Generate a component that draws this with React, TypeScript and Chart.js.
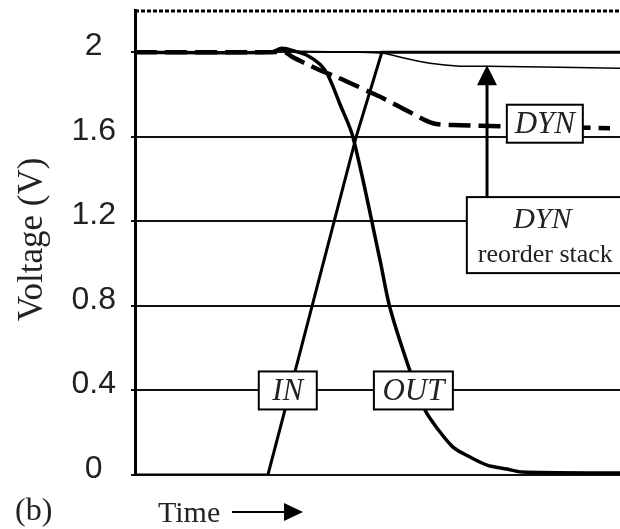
import React, { useEffect, useRef } from 'react';
import { Chart, registerables } from 'chart.js';
Chart.register(...registerables);

// ---- data (time in arbitrary units 0..100, voltage in V) ----
const yTicks = [0, 0.4, 0.8, 1.2, 1.6, 2];

const inTime = [0, 27.4, 33.0, 45.6, 50.9, 100];
const inVolt = [0, 0, 0.49, 1.6, 2.0, 2.0];

const outTime = [0, 27.84, 30.31, 32.99, 35.46, 38.14, 39.79, 42.27, 44.95, 50.52, 52.58, 56.7, 59.79, 62.27, 65.57, 69.07, 72.58, 76.7, 79.79, 100];
const outVolt = [2.0, 2.0, 2.019, 2.005, 1.986, 1.943, 1.891, 1.754, 1.598, 1.017, 0.79, 0.492, 0.307, 0.222, 0.132, 0.085, 0.047, 0.028, 0.014, 0.009];

const dynTime = [0, 27.84, 30.9, 32.58, 35.05, 38.14, 41.65, 45.36, 48.45, 51.13, 56.7, 61.44, 67.01, 75.26, 97.94];
const dynVolt = [2.0, 2.0, 2.0, 1.976, 1.948, 1.915, 1.882, 1.844, 1.811, 1.783, 1.716, 1.664, 1.655, 1.65, 1.641];

const reoTime = [0, 27.84, 30.31, 34.0, 45.77, 51.13, 55.67, 60.82, 67.01, 72.58, 87.63, 100];
const reoVolt = [2.0, 2.0, 2.01, 2.005, 2.0, 1.995, 1.972, 1.948, 1.934, 1.934, 1.929, 1.924];

// ---- annotations (data coordinates) ----
const boxLabels = [
  { lines: ['IN'], t: 31.5, v: 0.4 },
  { lines: ['OUT'], t: 57.4, v: 0.4 },
  { lines: ['DYN'], t: 84.5, v: 1.662 },
  { lines: ['DYN', 'reorder stack'], t: 84.4, v: 1.135 },
];
const arrowT = 72.58;
const arrowFromV = 1.314;
const arrowToV = 1.939;

const toXY = (ts: number[], vs: number[]) => ts.map((t, i) => ({ x: t, y: vs[i] }));

const SERIF = '"Liberation Serif", "Times New Roman", serif';
const SANS = '"Liberation Sans", Arial, sans-serif';

const annotPlugin = {
  id: 'annot',
  afterDatasetsDraw(chart: any) {
    const { ctx, chartArea: ca, scales } = chart;
    const xs = scales.x;
    const ys = scales.y;
    ctx.save();
    // top dotted border
    ctx.strokeStyle = '#000';
    ctx.lineWidth = 3;
    ctx.setLineDash([4, 2]);
    ctx.beginPath();
    ctx.moveTo(ca.left, ca.top + 1);
    ctx.lineTo(ca.right, ca.top + 1);
    ctx.stroke();
    ctx.setLineDash([]);

    // arrow
    const ax = xs.getPixelForValue(arrowT);
    const ay0 = ys.getPixelForValue(arrowFromV);
    const ay1 = ys.getPixelForValue(arrowToV);
    ctx.lineWidth = 3;
    ctx.beginPath();
    ctx.moveTo(ax, ay0);
    ctx.lineTo(ax, ay1 + 16);
    ctx.stroke();
    ctx.fillStyle = '#000';
    ctx.beginPath();
    ctx.moveTo(ax, ay1);
    ctx.lineTo(ax - 10, ay1 + 20);
    ctx.lineTo(ax + 10, ay1 + 20);
    ctx.closePath();
    ctx.fill();

    // boxes
    boxLabels.forEach((b) => {
      const cx = xs.getPixelForValue(b.t);
      const cy = ys.getPixelForValue(b.v);
      const two = b.lines.length > 1;
      const w = two ? 155 : b.lines[0] === 'OUT' ? 79 : b.lines[0] === 'IN' ? 58 : 76;
      const h = two ? 76 : 38;
      ctx.fillStyle = '#fff';
      ctx.fillRect(cx - w / 2, cy - h / 2, w, h);
      ctx.strokeStyle = '#000';
      ctx.lineWidth = 2;
      ctx.strokeRect(cx - w / 2, cy - h / 2, w, h);
      ctx.fillStyle = '#222';
      ctx.textAlign = 'center';
      ctx.textBaseline = 'middle';
      if (two) {
        ctx.font = `italic 30px ${SERIF}`;
        ctx.fillText(b.lines[0], cx - 2, cy - 15);
        ctx.font = `26px ${SERIF}`;
        ctx.fillText(b.lines[1], cx + 1, cy + 20);
      } else {
        ctx.font = `italic 31px ${SERIF}`;
        ctx.fillText(b.lines[0], cx, cy + 1);
      }
    });
    ctx.restore();
  },
  afterDraw(chart: any) {
    const { ctx, chartArea: ca } = chart;
    ctx.save();
    ctx.fillStyle = '#222';
    // y axis title
    ctx.font = `35px ${SERIF}`;
    ctx.textAlign = 'center';
    ctx.textBaseline = 'middle';
    ctx.translate(33, (ca.top + ca.bottom) / 2 - 3);
    ctx.rotate(-Math.PI / 2);
    ctx.fillText('Voltage (V)', 0, 0);
    ctx.restore();

    ctx.save();
    ctx.fillStyle = '#222';
    ctx.textBaseline = 'alphabetic';
    ctx.textAlign = 'left';
    ctx.font = `32px ${SERIF}`;
    ctx.fillText('(b)', 15, 520);
    ctx.font = `30px ${SERIF}`;
    ctx.fillText('Time', 158, 522);
    // arrow after Time
    ctx.strokeStyle = '#000';
    ctx.lineWidth = 2;
    ctx.beginPath();
    ctx.moveTo(232, 512);
    ctx.lineTo(286, 512);
    ctx.stroke();
    ctx.fillStyle = '#000';
    ctx.beginPath();
    ctx.moveTo(303, 512);
    ctx.lineTo(284, 503);
    ctx.lineTo(284, 521);
    ctx.closePath();
    ctx.fill();
    ctx.restore();
  },
};

export default function App() {
  const ref = useRef<HTMLCanvasElement | null>(null);
  useEffect(() => {
    document.body.style.margin = '0';
    const canvas = ref.current;
    if (!canvas) return;
    const chart = new Chart(canvas, {
      type: 'line',
      data: {
        datasets: [
          {
            label: 'IN',
            data: toXY(inTime, inVolt),
            borderColor: '#000',
            borderWidth: 3,
            pointRadius: 0,
            fill: false,
            tension: 0,
          },
          {
            label: 'OUT',
            data: toXY(outTime, outVolt),
            borderColor: '#000',
            borderWidth: 3.5,
            pointRadius: 0,
            fill: false,
            tension: 0.3,
          },
          {
            label: 'DYN',
            data: toXY(dynTime, dynVolt),
            borderColor: '#000',
            borderWidth: 4.5,
            borderDash: [22, 8],
            pointRadius: 0,
            fill: false,
            tension: 0.3,
          },
          {
            label: 'DYN reorder stack',
            data: toXY(reoTime, reoVolt),
            borderColor: '#000',
            borderWidth: 1.5,
            pointRadius: 0,
            fill: false,
            tension: 0.2,
          },
        ],
      },
      options: {
        responsive: false,
        animation: false,
        devicePixelRatio: 1,
        layout: { padding: { top: 10, bottom: 54, left: 0, right: 0 } },
        plugins: {
          legend: { display: false },
          tooltip: { enabled: false },
        },
        scales: {
          x: {
            type: 'linear',
            min: 0,
            max: 100,
            display: false,
          },
          y: {
            type: 'linear',
            min: 0,
            max: 2.2,
            afterBuildTicks: (scale: any) => {
              scale.ticks = yTicks.map((v) => ({ value: v }));
            },
            afterFit: (scale: any) => {
              scale.width = 135;
              scale.paddingTop = 0;
              scale.paddingBottom = 0;
            },
            grid: {
              color: '#111',
              lineWidth: 2,
              tickLength: 4,
              drawTicks: true,
            },
            border: { display: true, color: '#000', width: 3 },
            ticks: {
              color: '#222',
              font: { family: SANS, size: 32 },
              padding: 15,
              crossAlign: 'center',
              labelOffset: -6,
              callback: (v: any) => String(Math.round(v * 10) / 10),
            },
          },
        },
      },
      plugins: [annotPlugin],
    } as any);
    return () => chart.destroy();
  }, []);
  return (
    <div style={{ width: 620, height: 529 }}>
      <canvas ref={ref} width={620} height={529} style={{ display: 'block' }} />
    </div>
  );
}
